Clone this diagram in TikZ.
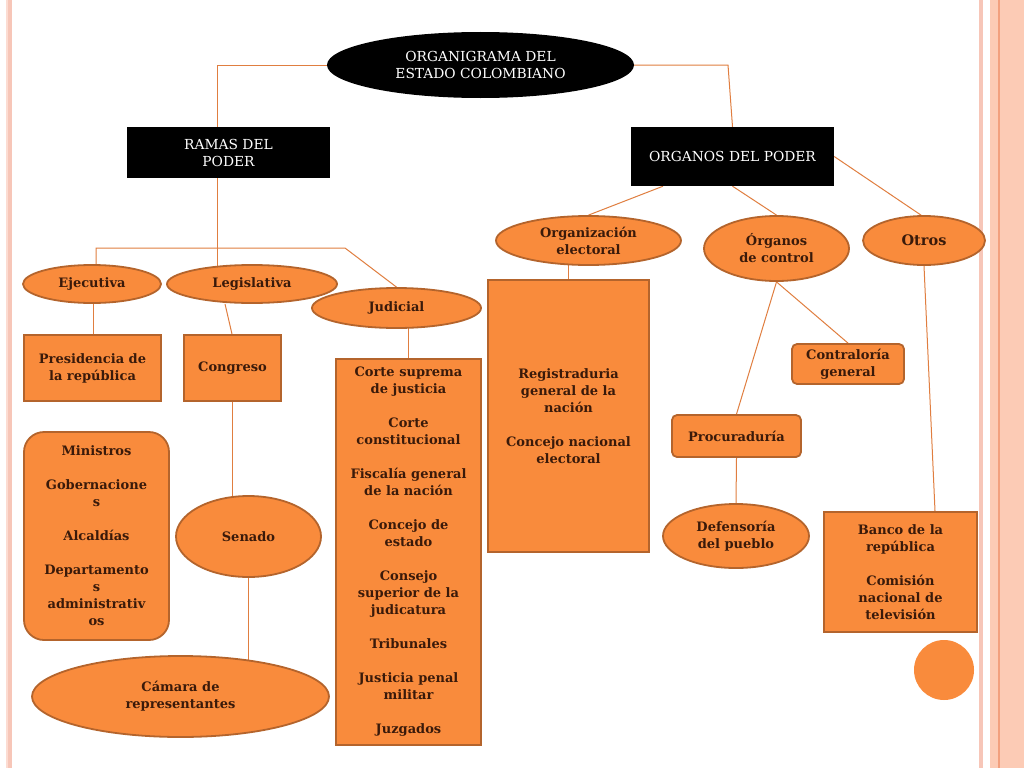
\documentclass[tikz,border=0pt]{standalone}
\usepackage{fontspec}
\setmainfont{DejaVu Serif}
\usetikzlibrary{shapes.geometric,calc}
\definecolor{orfill}{HTML}{F98B3C}
\definecolor{orline}{HTML}{B4642C}
\definecolor{txt}{HTML}{3A1A0A}
\definecolor{conncol}{HTML}{E07E40}
\definecolor{pinkA}{HTML}{FCDCD2}
\definecolor{pinkB}{HTML}{F7C6B8}
\definecolor{salmon}{HTML}{FCCBB5}
\definecolor{salmonline}{HTML}{F2A07E}
\pgfdeclarelayer{back}
\pgfdeclarelayer{bg}
\pgfsetlayers{back,bg,main}
\begin{document}
\begin{tikzpicture}[x=1pt,y=-1pt,
  obox/.style={draw=orline, line width=1.8pt, fill=orfill, text=txt,
    font=\bfseries\fontsize{13}{17}\selectfont, align=center, inner sep=0pt},
  oell/.style={obox, ellipse},
  blk/.style={fill=black, text=white, font=\fontsize{13.8}{17}\selectfont, align=center, inner sep=0pt},
  conn/.style={draw=conncol, line width=1pt}]
% page and side stripes
\begin{pgfonlayer}{back}
\fill[white] (0,0) rectangle (1024,768);
\fill[pinkA] (6,0) rectangle (8,768);
\fill[pinkB] (8,0) rectangle (12,768);
\fill[pinkB] (979,0) rectangle (983,768);
\fill[salmon] (990,0) rectangle (1024,768);
\fill[salmonline] (998,0) rectangle (999.5,768);
\end{pgfonlayer}
\useasboundingbox (0,0) rectangle (1024,768);

% top level
\node[blk, ellipse, minimum width=307, minimum height=66] (title) at (480.5,65) {ORGANIGRAMA DEL\\ESTADO COLOMBIANO};
\node[blk, minimum width=203, minimum height=51] (ramas) at (228.5,152.5) {RAMAS DEL\\PODER};
\node[blk, minimum width=203, minimum height=59] (organos) at (732.5,156.5) {ORGANOS DEL PODER};

% ramas
\node[oell, minimum width=138, minimum height=38] (ejec) at (92,284) {Ejecutiva};
\node[oell, minimum width=170, minimum height=38] (legis) at (252,284) {Legislativa};
\node[oell, minimum width=169, minimum height=40] (judic) at (396.5,308) {Judicial};
\node[obox, minimum width=137, minimum height=66] (pres) at (92.5,368) {Presidencia de\\la república};
\node[obox, minimum width=97, minimum height=66] (congreso) at (232.5,368) {Congreso};
\node[obox, rounded corners=20pt, minimum width=145, minimum height=208] (minis) at (96.5,536)
  {Ministros\\[17pt]Gobernacione\\s\\[17pt]Alcaldías\\[17pt]Departamento\\s\\administrativ\\os};
\node[oell, minimum width=145, minimum height=81] (senado) at (248.5,536.5) {Senado};
\node[oell, minimum width=297, minimum height=81] (camara) at (180.5,696.5) {Cámara de\\representantes};
\node[obox, minimum width=145, minimum height=386] (justbox) at (408.5,552)
  {Corte suprema\\de justicia\\[17pt]Corte\\constitucional\\[17pt]Fiscalía general\\de la nación\\[17pt]Concejo de\\estado\\[17pt]Consejo\\superior de la\\judicatura\\[17pt]Tribunales\\[17pt]Justicia penal\\militar\\[17pt]Juzgados};

% organos
\node[oell, minimum width=185, minimum height=49] (orgel) at (588.5,240.5) {Organización\\electoral};
\node[obox, minimum width=161, minimum height=272] (regis) at (568.5,416)
  {Registraduria\\general de la\\nación\\[17pt]Concejo nacional\\electoral};
\node[oell, minimum width=145, minimum height=65] (orgctl) at (776.5,248.5) {Órganos\\de control};
\node[oell, minimum width=122, minimum height=49, font=\bfseries\fontsize{14.5}{17}\selectfont] (otros) at (924,240.5) {Otros};
\node[obox, rounded corners=5pt, minimum width=112, minimum height=40] (contra) at (848,364) {Contraloría\\general};
\node[obox, rounded corners=5pt, minimum width=129, minimum height=42] (procu) at (736.5,436) {Procuraduría};
\node[oell, minimum width=146, minimum height=64] (defen) at (736,536) {Defensoría\\del pueblo};
\node[obox, minimum width=153, minimum height=120] (banco) at (900.5,572)
  {Banco de la\\república\\[17pt]Comisión\\nacional de\\televisión};
\node[circle, fill=orfill, minimum size=60, inner sep=0pt] (dot) at (944,670) {};

% connectors
\coordinate (bend) at (345,248);
\begin{pgfonlayer}{bg}
\draw[conn] (title.center) -| ([xshift=-11.5pt]ramas.north);
\draw[conn] (title.center) -- (title.center -| 728,0) -- (organos.north);
\draw[conn] ([xshift=-11.5pt]ramas.south) -- ([xshift=-11.5pt]ramas.south |- legis.center);
\draw[conn] ([xshift=4pt]ejec.center) |- (bend) -- (judic.north);
\draw[conn] ([xshift=1pt]ejec.center) -- ([xshift=1pt]ejec.center |- pres.north);
\draw[conn] ([xshift=-27pt]legis.south) -- ([xshift=-0.5pt]congreso.north);
\draw[conn] (congreso.south) -- (congreso.south |- senado.center);
\draw[conn] (senado.center) -- (senado.center |- camara.center);
\draw[conn] (justbox.north) -- (justbox.north |- judic.center);
\draw[conn] ([xshift=-69.5pt]organos.south) -- (orgel.north);
\draw[conn] (regis.north) -- (regis.north |- orgel.center);
\draw[conn] (organos.south) -- (orgctl.north);
\draw[conn] (organos.east) -- ([xshift=-3pt]otros.north);
\draw[conn] (orgctl.south) -- (contra.north);
\draw[conn] (orgctl.south) -- (procu.north);
\draw[conn] (procu.south) -- (defen.north);
\draw[conn] (otros.south) -- ([xshift=34.5pt]banco.north);
\end{pgfonlayer}
\end{tikzpicture}
\end{document}
